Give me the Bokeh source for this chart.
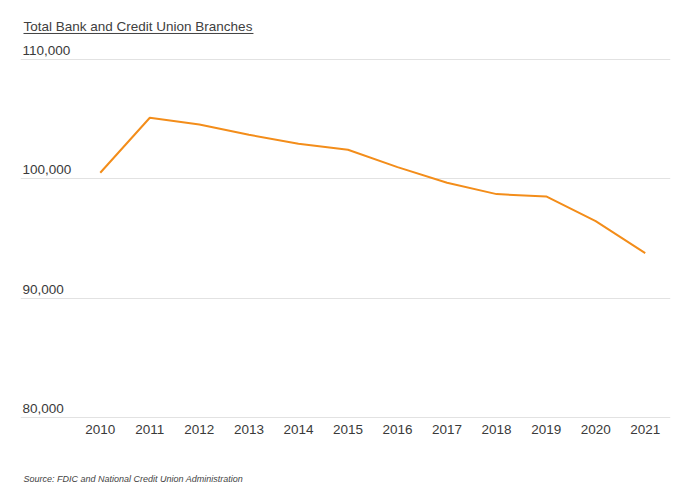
from bokeh.plotting import figure
from bokeh.models import Range1d, FixedTicker, ColumnDataSource
from bokeh.core.properties import value
from bokeh.embed import file_html
from bokeh.resources import INLINE

# ---- data ----
years = [2010, 2011, 2012, 2013, 2014, 2015, 2016, 2017, 2018, 2019, 2020, 2021]
branches = [100511, 105116, 104555, 103693, 102939, 102437, 100980, 99673, 98719, 98526, 96458, 93779]
y_ticks = [80000, 90000, 100000, 110000]
y_tick_labels = ["80,000", "90,000", "100,000", "110,000"]
x_tick_labels = [str(y) for y in years]
title_text = "Total Bank and Credit Union Branches"
source_text = "Source: FDIC and National Credit Union Administration"

FONT = "Liberation Sans"
X0, X1 = 2008.39, 2021.51
Y0, Y1 = 73971, 114940
PX_PER_YEAR = 49.55

p = figure(width=700, height=489, output_backend="svg", toolbar_location=None,
           x_range=Range1d(X0, X1), y_range=Range1d(Y0, Y1),
           min_border_left=20, min_border_right=30, min_border_top=0, min_border_bottom=0)
p.outline_line_color = None
p.background_fill_color = "white"
p.border_fill_color = "white"
p.xaxis.visible = False
p.yaxis.visible = False

# grid
p.xgrid.visible = False
p.ygrid.ticker = FixedTicker(ticks=y_ticks)
p.ygrid.grid_line_color = "#e2e2e2"
p.ygrid.grid_line_width = 1

# y labels above gridlines
ysrc = ColumnDataSource(dict(x=[X0] * len(y_ticks), y=y_ticks, t=y_tick_labels))
p.text(x="x", y="y", text="t", source=ysrc, x_offset=2, y_offset=-9,
       text_font=value(FONT), text_font_size="13.5px", text_color="#3a3a3a",
       text_baseline="alphabetic", text_align="left")

# x labels below the bottom gridline
xsrc = ColumnDataSource(dict(x=years, y=[y_ticks[0]] * len(years), t=x_tick_labels))
p.text(x="x", y="y", text="t", source=xsrc, y_offset=12,
       text_font=value(FONT), text_font_size="13.5px", text_color="#3a3a3a",
       text_baseline="alphabetic", text_align="center")

# line
p.line(years, branches, line_color="#f38d1a", line_width=2)

# title with underline
p.text(x=[X0], y=[y_ticks[-1]], text=[title_text], x_offset=3, y_offset=-33,
       text_font=value(FONT), text_font_size="13.5px", text_color="#404040",
       text_baseline="alphabetic", text_align="left")
p.segment(x0=[X0 + 3 / PX_PER_YEAR], y0=[112177], x1=[X0 + 233 / PX_PER_YEAR], y1=[112177],
          line_color="#404040", line_width=1)

# source note
p.text(x=[X0], y=[y_ticks[0]], text=[source_text], x_offset=3, y_offset=61,
       text_font=value(FONT), text_font_size="9px", text_font_style="italic",
       text_color="#444444", text_baseline="alphabetic", text_align="left")

open("out.html", "w").write(file_html(p, INLINE))
